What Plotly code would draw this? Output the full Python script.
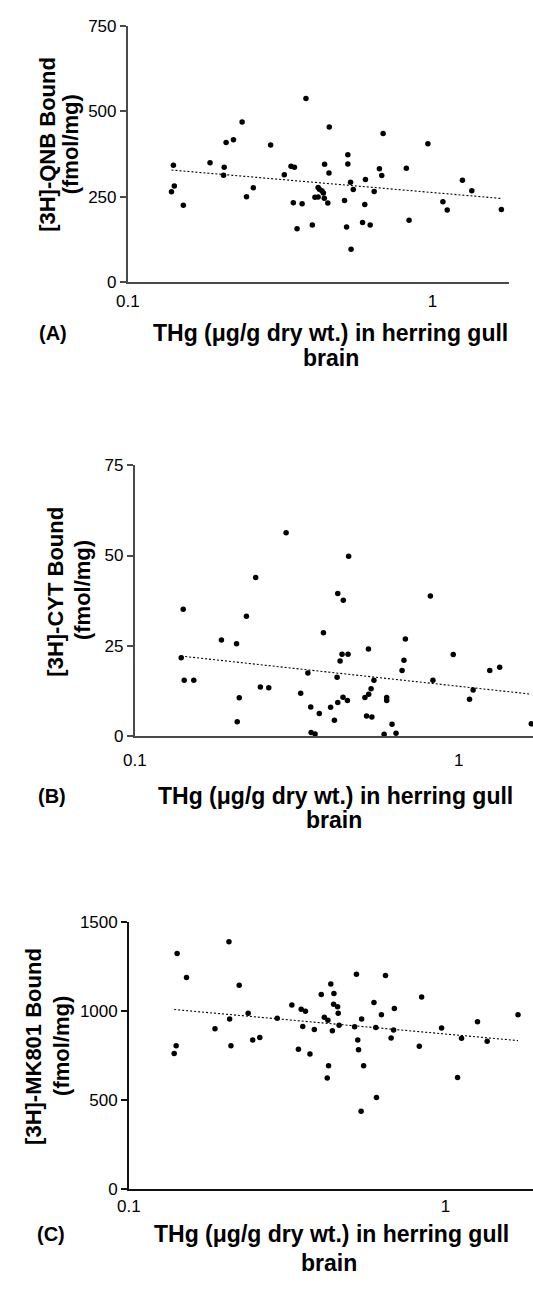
import math
import plotly.graph_objects as go

W, H = 533, 1291
FONT = "Liberation Sans, Arial, Helvetica, sans-serif"

# ---- Panel A: [3H]-QNB bound vs brain THg ----
thg_a = [0.384, 0.237, 0.458, 0.688, 0.210, 0.222, 0.294, 0.965, 0.527, 0.141,
         0.186, 0.207, 0.206, 0.139, 0.142, 0.152, 0.245, 0.258, 0.326, 0.343,
         0.352, 0.442, 0.527, 0.457, 0.669, 0.681, 0.820, 0.602, 0.538, 0.549,
         0.643, 1.253, 1.345, 1.081, 1.117, 1.682, 0.837, 0.349, 0.373, 0.421,
         0.425, 0.433, 0.438, 0.411, 0.421, 0.441, 0.453, 0.514, 0.599, 0.359,
         0.403, 0.522, 0.589, 0.624, 0.540]
qnb = [538, 469, 454, 435, 409, 417, 401, 405, 373, 342,
       349, 336, 313, 264, 281, 225, 250, 276, 314, 339,
       336, 345, 346, 319, 332, 312, 333, 300, 292, 271,
       265, 298, 267, 235, 211, 212, 181, 232, 229, 277,
       272, 267, 261, 248, 249, 245, 231, 239, 227, 156,
       167, 161, 174, 167, 96]

# ---- Panel B: [3H]-CYT bound vs brain THg ----
thg_b = [0.293, 0.457, 0.236, 0.423, 0.817, 0.440, 0.141, 0.221, 0.382, 0.185,
         0.206, 0.684, 0.526, 0.139, 0.436, 0.455, 0.430, 0.677, 0.961, 0.342,
         0.668, 1.246, 1.337, 0.142, 0.152, 0.421, 0.547, 0.832, 0.244, 0.259,
         0.536, 1.107, 0.325, 0.210, 0.439, 0.453, 0.527, 0.513, 0.599, 0.599,
         1.079, 0.423, 0.349, 0.402, 0.371, 0.519, 0.539, 0.207, 0.413, 0.622,
         1.674, 0.350, 0.360, 0.588, 0.640]
cyt = [56.3, 49.8, 43.9, 39.5, 38.8, 37.6, 35.1, 33.2, 28.6, 26.6,
       25.6, 26.9, 24.1, 21.7, 22.7, 22.7, 20.8, 21.0, 22.6, 17.5,
       18.2, 18.2, 19.1, 15.5, 15.5, 16.3, 15.5, 15.5, 13.6, 13.4,
       13.1, 12.8, 11.9, 10.6, 10.8, 9.9, 11.6, 10.7, 10.7, 9.9,
       10.2, 9.3, 8.1, 8.0, 6.3, 5.6, 5.3, 4.0, 4.4, 3.3,
       3.4, 1.0, 0.6, 0.5, 0.8]

# ---- Panel C: [3H]-MK801 bound vs brain THg ----
thg_c = [0.207, 0.142, 0.152, 0.223, 0.434, 0.523, 0.646, 0.405, 0.444, 0.840,
         0.594, 0.327, 0.443, 0.456, 0.689, 0.350, 0.361, 0.238, 0.458, 0.627,
         1.693, 0.208, 0.294, 0.414, 0.425, 0.543, 1.261, 0.461, 0.354, 0.516,
         0.602, 0.971, 0.187, 0.385, 0.439, 0.685, 0.259, 0.246, 0.673, 1.123,
         0.528, 1.353, 0.141, 0.210, 0.826, 0.343, 0.531, 0.139, 0.373, 0.427,
         0.551, 0.423, 1.091, 0.605, 0.541]
mk801 = [1389, 1323, 1188, 1144, 1151, 1206, 1199, 1092, 1098, 1079,
         1048, 1033, 1038, 1023, 1014, 1009, 998, 987, 987, 979,
         979, 955, 959, 965, 948, 955, 939, 920, 912, 911,
         907, 904, 900, 896, 889, 893, 851, 837, 848, 846,
         837, 829, 804, 804, 802, 785, 782, 761, 757, 691,
         691, 623, 626, 513, 436]

# regression lines: bound = intercept + slope * log10(THg)
fit_a = (262.0, -77.0)
fit_b = (13.8, -9.75)
fit_c = (870.0, -161.0)

yticks_a = [0, 250, 500, 750]
yticks_b = [0, 25, 50, 75]
yticks_c = [0, 500, 1000, 1500]
xtick_vals = [0.1, 1]
xtick_text = ["0.1", "1"]

xtitle = "THg (\u03bcg/g dry wt.) in herring gull"

# pixel boxes (left, right, top, bottom) and text positions for each panel
panels = [
    dict(x=thg_a, y=qnb, fit=fit_a, yticks=yticks_a,
         box=(118.6, 508.2, 17.3, 277.0), xmax_log=0.25, standoff=3,
         axcolor="#4a4a4a", axwidth=2,
         ytitle=("[3H]-QNB Bound", "(fmol/mg)"),
         ytpos=((36.2, 137.5), (60.7, 137.0)),
         xtpos=((326, 329), (326, 354)), label="(A)", lpos=(25.5, 329)),
    dict(x=thg_b, y=cyt, fit=fit_b, yticks=yticks_b,
         box=(125.7, 533.0, 463.0, 738.0), xmax_log=0.229, standoff=7,
         axcolor="#4a4a4a", axwidth=2,
         ytitle=("[3H]-CYT Bound", "(fmol/mg)"),
         ytpos=((44.9, 591.5), (72.4, 590.0)),
         xtpos=((331, 799), (329, 823)), label="(B)", lpos=(24.5, 799)),
    dict(x=thg_c, y=mk801, fit=fit_c, yticks=yticks_c,
         box=(119.6, 533.0, 926.7, 1197.3), xmax_log=0.276, standoff=1,
         axcolor="#111111", axwidth=1.6,
         ytitle=("[3H]-MK801 Bound", "(fmol/mg)"),
         ytpos=((21.4, 1052.5), (50.0, 1052.5)),
         xtpos=((327, 1243), (324, 1273)), label="(C)", lpos=(23.5, 1243)),
]


def px(xp):
    return xp / W


def py(yp):
    return 1 - yp / H


fig = go.Figure()
annotations = []
layout_axes = {}

for i, p in enumerate(panels, start=1):
    xa = "x" if i == 1 else f"x{i}"
    ya = "y" if i == 1 else f"y{i}"
    x0, x1, ytop, ybot = p["box"]

    # scatter points
    fig.add_trace(go.Scatter(
        x=p["x"], y=p["y"], mode="markers", xaxis=xa, yaxis=ya,
        marker=dict(size=5.5, color="black"), cliponaxis=False,
        showlegend=False, hoverinfo="skip"))

    # regression line across the observed THg range
    lo, hi = min(p["x"]), max(p["x"])
    b0, b1 = p["fit"]
    fig.add_trace(go.Scatter(
        x=[lo, hi], y=[b0 + b1 * math.log10(lo), b0 + b1 * math.log10(hi)],
        mode="lines", xaxis=xa, yaxis=ya,
        line=dict(color="black", width=1.1, dash="2px,2px"),
        showlegend=False, hoverinfo="skip"))

    xkey = "xaxis" if i == 1 else f"xaxis{i}"
    ykey = "yaxis" if i == 1 else f"yaxis{i}"
    layout_axes[xkey] = dict(
        type="log", range=[-1, p["xmax_log"]], domain=[px(x0), min(px(x1), 1.0)],
        anchor=ya, showline=True, linecolor=p["axcolor"], linewidth=p["axwidth"],
        showgrid=False, zeroline=False, ticks="", tickvals=xtick_vals,
        ticktext=xtick_text, ticklabelstandoff=p["standoff"],
        tickfont=dict(family=FONT, size=17, color="black"))
    layout_axes[ykey] = dict(
        range=[0, p["yticks"][-1]], domain=[py(ybot), py(ytop)], anchor=xa,
        showline=True, linecolor=p["axcolor"], linewidth=p["axwidth"],
        showgrid=False, zeroline=False, ticks="outside", ticklen=6,
        tickwidth=1.5, tickcolor=p["axcolor"], tickvals=p["yticks"],
        tickfont=dict(family=FONT, size=17, color="black"))

    # y-axis title (two rotated lines)
    for txt, (ax_, ay_) in zip(p["ytitle"], p["ytpos"]):
        annotations.append(dict(
            text=txt, x=px(ax_), y=py(ay_), xref="paper", yref="paper",
            textangle=-90, showarrow=False, xanchor="center", yanchor="middle",
            font=dict(family=FONT, size=22, color="black", weight="bold")))

    # x-axis title (two centred lines)
    for txt, (ax_, ay_) in zip((xtitle, "brain"), p["xtpos"]):
        annotations.append(dict(
            text=txt, x=px(ax_), y=py(ay_), xref="paper", yref="paper",
            showarrow=False, xanchor="center", yanchor="middle",
            font=dict(family=FONT, size=23, color="black", weight="bold")))

    # panel letter
    annotations.append(dict(
        text=p["label"], x=px(p["lpos"][0]), y=py(p["lpos"][1]),
        xref="paper", yref="paper", showarrow=False,
        xanchor="left", yanchor="middle",
        font=dict(family=FONT, size=20, color="black", weight="bold")))

fig.update_layout(
    width=W, height=H, margin=dict(l=0, r=0, t=0, b=0),
    paper_bgcolor="white", plot_bgcolor="white",
    annotations=annotations, **layout_axes)

fig.write_html("out.html")
